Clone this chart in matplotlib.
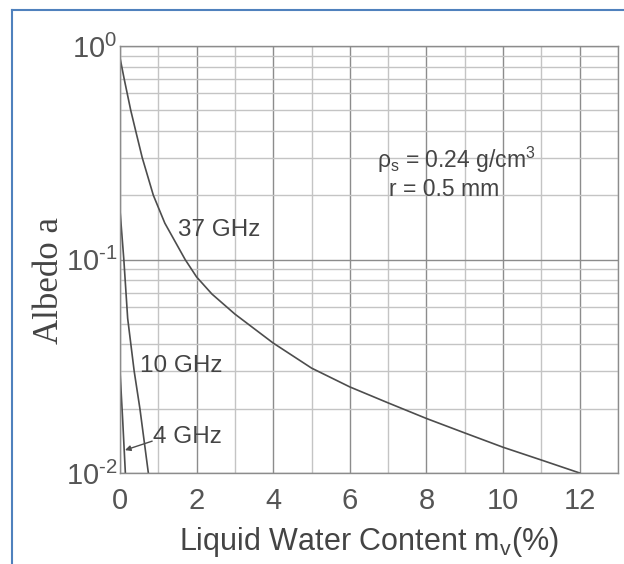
import matplotlib
matplotlib.use("Agg")
import matplotlib.pyplot as plt
from matplotlib.ticker import MultipleLocator, LogLocator, FixedLocator
from matplotlib.lines import Line2D

plt.rcParams["font.family"] = ["Liberation Sans", "DejaVu Sans"]
plt.rcParams["mathtext.fontset"] = "custom"
plt.rcParams["mathtext.rm"] = "Liberation Sans"
plt.rcParams["mathtext.it"] = "Liberation Sans"
plt.rcParams["mathtext.bf"] = "Liberation Sans:bold"
plt.rcParams["axes.unicode_minus"] = False

# 37 GHz curve
x37 = [0, 0.11, 0.28, 0.41, 0.58, 0.87, 1.17, 1.7, 2, 2.4, 3, 4, 5, 6, 7, 8, 9, 10, 11, 12]
a37 = [0.88, 0.7, 0.5, 0.4, 0.3, 0.2, 0.148, 0.1, 0.0828, 0.0689, 0.0555, 0.0406,
       0.031, 0.0253, 0.0213, 0.018, 0.0154, 0.0132, 0.0115, 0.01]

# 10 GHz curve
x10 = [0, 0.1, 0.2, 0.37, 0.52, 0.74]
a10 = [0.17, 0.1, 0.053, 0.03, 0.02, 0.01]

# 4 GHz curve
x4 = [0, 0.07, 0.14]
a4 = [0.03, 0.0177, 0.01]

xticks = [0, 2, 4, 6, 8, 10, 12]
yticks = [1e-2, 1e-1, 1e0]
ytick_labels = [r"$10^{\text{-2}}$", r"$10^{\text{-1}}$", r"$10^{0}$"]

fig = plt.figure(figsize=(6.24, 5.64), dpi=100)
ax = fig.add_axes([120 / 624, 1 - 473 / 564, 498 / 624, 427 / 564])

line_col = "#4d4d4d"
ax.plot(x37, a37, color=line_col, lw=1.2)
ax.plot(x10, a10, color=line_col, lw=1.2)
ax.plot(x4, a4, color=line_col, lw=1.2)

ax.set_yscale("log")
ax.set_xlim(0, 13)
ax.set_ylim(1e-2, 1e0)

ax.xaxis.set_major_locator(FixedLocator(xticks))
ax.xaxis.set_minor_locator(MultipleLocator(1))
ax.yaxis.set_major_locator(FixedLocator(yticks))
ax.yaxis.set_minor_locator(LogLocator(base=10, subs=range(2, 10)))
ax.set_yticklabels(ytick_labels)

ax.grid(which="major", color="#8c8c8c", lw=1.0)
ax.grid(which="minor", color="#c4c4c4", lw=1.0)
ax.tick_params(which="both", length=0)
ax.tick_params(axis="x", labelsize=21, pad=10, colors="#555555")
ax.tick_params(axis="y", labelsize=21, pad=2, colors="#555555")
for s in ax.spines.values():
    s.set_color("#8c8c8c")
    s.set_linewidth(1.0)

txt = "#444444"
ax.text(1.51, 0.137, "37 GHz", fontsize=17.5, color=txt, va="center", ha="left")
ax.text(0.52, 0.0317, "10 GHz", fontsize=17.5, color=txt, va="center", ha="left")
ax.text(0.86, 0.0147, "4 GHz", fontsize=17.5, color=txt, va="center", ha="left")
ax.annotate("", xy=(0.13, 0.0128), xytext=(0.84, 0.0141),
            arrowprops=dict(arrowstyle="-|>", color=line_col, lw=1.0,
                            mutation_scale=8, shrinkA=0, shrinkB=0))
ax.text(6.71, 0.292, r"$\rho_s$ = 0.24 g/cm$^3$", fontsize=16.5, color=txt,
        va="center", ha="left")
ax.text(7.02, 0.2117, "r = 0.5 mm", fontsize=16.5, color=txt, va="center", ha="left")

ax.set_xlabel("Liquid Water Content m$_v$(%)", fontsize=22, color=txt, labelpad=7)
fig.text(49 / 624, 1 - 281 / 564, "Albedo a", rotation=90, fontsize=25,
         family="Liberation Serif", color=txt, ha="center", va="center")

# blue frame round the figure
blue = "#4f81bd"
fig.add_artist(Line2D([11.5 / 624, 11.5 / 624], [0, 1 - 9.5 / 564],
                      transform=fig.transFigure, color=blue, lw=1.5))
fig.add_artist(Line2D([11.5 / 624, 1], [1 - 9.5 / 564, 1 - 9.5 / 564],
                      transform=fig.transFigure, color=blue, lw=1.5))

fig.savefig("out.png", dpi=100)
